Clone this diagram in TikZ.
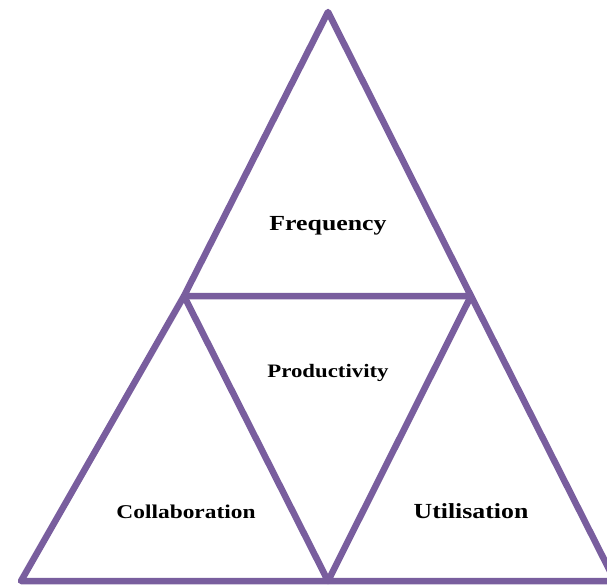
\documentclass[tikz,border=0pt]{standalone}
\usepackage{fontspec}
\setmainfont{Liberation Serif}[FakeStretch=1.2]
\definecolor{edgepurple}{RGB}{121,94,158}
\tikzset{
  edge/.style={draw=edgepurple, line width=6.5pt, line join=round, line cap=round},
  label/.style={anchor=base, inner sep=0pt, font=\bfseries\fontsize{21.5}{25}\selectfont},
  midlabel/.style={label, font=\bfseries\fontsize{19.5}{23}\selectfont},
  smalllabel/.style={label, font=\bfseries\fontsize{19}{22}\selectfont}
}
\begin{document}
\begin{tikzpicture}[x=1pt, y=-1pt]
  \useasboundingbox (0,0) rectangle (607,588);
  \clip (0,0) rectangle (607,588);
  % corner points of the triangles
  \coordinate (apex) at (328,12);
  \coordinate (midL) at (184,296);
  \coordinate (midR) at (471,296);
  \coordinate (botL) at (21,581);
  \coordinate (botM) at (328,581);
  \coordinate (botR) at (615,581);
  % upper, lower-left and lower-right triangles
  \draw[edge] (apex) -- (midL) -- (midR) -- cycle;
  \draw[edge] (midL) -- (botL) -- (botM) -- cycle;
  \draw[edge] (midR) -- (botM) -- (botR) -- cycle;
  % labels
  \node[label] (freq) at (328,230) {Frequency};
  \node[smalllabel] (prod) at (328,377) {Productivity};
  \node[midlabel] (coll) at (186,518) {Collaboration};
  \node[label] (util) at (471,518) {Utilisation};
\end{tikzpicture}
\end{document}
